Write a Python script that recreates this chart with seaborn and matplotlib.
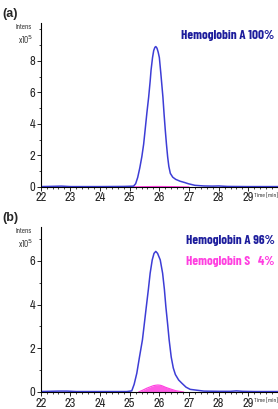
import numpy as np
import pandas as pd
import seaborn as sns
import matplotlib.pyplot as plt
from matplotlib import font_manager
from matplotlib.ticker import MultipleLocator

# chromatogram traces, intensity in units of 1e5
time_a = [22.0, 22.5, 22.7, 23.0, 24.0, 24.8, 25.0, 25.13, 25.2, 25.27, 25.34, 25.41,
          25.47, 25.52, 25.58, 25.64, 25.69, 25.72, 25.77, 25.81, 25.85, 25.88, 25.92,
          25.96, 26.0, 26.05, 26.12, 26.16, 26.2, 26.24, 26.28, 26.32, 26.37, 26.45,
          26.55, 26.7, 26.85, 26.98, 27.2, 27.5, 27.8, 28.0, 28.3, 29.0, 30.0]
hba_a = [0.02, 0.04, 0.05, 0.02, 0.02, 0.03, 0.04, 0.05, 0.2, 0.6, 1.2, 1.92,
         2.7, 3.6, 4.7, 5.7, 6.7, 7.4, 8.2, 8.65, 8.85, 8.9, 8.8,
         8.55, 8.2, 7.2, 5.7, 4.6, 3.6, 2.7, 1.9, 1.3, 0.86, 0.62,
         0.48, 0.36, 0.28, 0.2, 0.1, 0.06, 0.05, 0.06, 0.03, 0.02, 0.02]
time_a_s = [25.0, 25.5, 25.9, 26.5, 27.0]
hbs_a = [0.0, 0.02, 0.03, 0.02, 0.0]

time_b = [22.0, 22.6, 22.9, 23.2, 24.0, 24.9, 25.07, 25.15, 25.24, 25.33, 25.43, 25.5,
          25.56, 25.63, 25.69, 25.76, 25.82, 25.88, 25.94, 26.03, 26.11, 26.17, 26.22,
          26.28, 26.33, 26.4, 26.47, 26.54, 26.65, 26.76, 26.9, 27.04, 27.5, 28.0,
          28.4, 28.6, 28.8, 29.2, 30.0]
hba_b = [0.02, 0.04, 0.04, 0.02, 0.02, 0.02, 0.05, 0.35, 0.86, 1.6, 2.39, 3.2,
         3.9, 4.7, 5.44, 6.05, 6.35, 6.44, 6.35, 6.05, 5.44, 4.7, 3.9,
         3.1, 2.39, 1.6, 1.1, 0.8, 0.55, 0.4, 0.22, 0.12, 0.04, 0.03,
         0.03, 0.05, 0.03, 0.02, 0.02]
time_b_s = [25.3, 25.45, 25.57, 25.7, 25.8, 25.88, 25.95, 26.03, 26.1, 26.22, 26.37, 26.55, 26.82]
hbs_b = [0.0, 0.09, 0.17, 0.24, 0.29, 0.31, 0.32, 0.31, 0.28, 0.21, 0.14, 0.06, 0.0]

labels_a = ["Hemoglobin A 100%"]
labels_b = ["Hemoglobin A 96%", "Hemoglobin S   4%"]
xticks = [22, 23, 24, 25, 26, 27, 28, 29]

blue = "#3d3dd6"
navy = "#1c1c9c"
pink = "#ff3fe0"

sns.set_theme(style="ticks")
names = {f.name for f in font_manager.fontManager.ttflist}


def pick(*fams):
    for f in fams:
        if f in names:
            return f
    return "DejaVu Sans"


narrow = pick("Archivo Narrow", "Roboto Condensed", "Liberation Sans")
cond = pick("Barlow Condensed", "Roboto Condensed", "Archivo Narrow")
arial = pick("Liberation Sans", "DejaVu Sans")
plt.rcParams["font.family"] = [narrow, "DejaVu Sans"]

fig = plt.figure(figsize=(2.78, 4.09), dpi=100)
ax_a = fig.add_axes([0.1464, 0.543, 0.8536, 0.401])
ax_b = fig.add_axes([0.1464, 0.0416, 0.8536, 0.403])

panels = [
    (ax_a, time_a, hba_a, time_a_s, hbs_a, 10.4, [0, 2, 4, 6, 8], labels_a, "(a)"),
    (ax_b, time_b, hba_b, time_b_s, hbs_b, 7.55, [0, 2, 4, 6], labels_b, "(b)"),
]

for ax, t, a, ts, s, ymax, yt, labels, tag in panels:
    df = pd.DataFrame({"time": t, "intens": a})
    dfs = pd.DataFrame({"time": ts, "intens": s})
    ax.fill_between(dfs["time"], 0, dfs["intens"], color=pink, alpha=0.85, lw=0)
    sns.lineplot(data=dfs, x="time", y="intens", ax=ax, color=pink, lw=0.8)
    sns.lineplot(data=df, x="time", y="intens", ax=ax, color=blue, lw=1.1)
    ax.set_xlim(22, 30.0)
    ax.set_ylim(0, ymax)
    ax.set_xticks(xticks)
    ax.set_yticks(yt)
    ax.xaxis.set_minor_locator(MultipleLocator(0.2))
    ax.yaxis.set_minor_locator(MultipleLocator(1))
    ax.tick_params(axis="both", which="major", labelsize=9, length=3, width=0.7, pad=1)
    ax.tick_params(axis="both", which="minor", length=1.5, width=0.6)
    ax.set_xlabel("")
    ax.set_ylabel("")
    sns.despine(ax=ax)
    for sp in ["left", "bottom"]:
        ax.spines[sp].set_linewidth(0.8)
        ax.spines[sp].set_color("black")
    ax.text(29.2, -0.035, "Time [min]", transform=ax.get_xaxis_transform(),
            ha="left", va="top", fontsize=4.6, family=cond)
    ax.text(-0.04, 0.995, "Intens", transform=ax.transAxes, ha="right", va="top",
            fontsize=5.5, family=cond)
    ax.text(-0.03, 0.935, "x10$^5$", transform=ax.transAxes, ha="right", va="top",
            fontsize=6.5, family=cond)
    ax.text(-0.16, 1.09, tag, transform=ax.transAxes, ha="left", va="top",
            fontsize=9, fontweight="bold", family=arial)
    cols = [navy, pink]
    for i, lab in enumerate(labels):
        ax.text(0.985, 0.955 - i * 0.13, lab, transform=ax.transAxes, ha="right", va="top",
                fontsize=9.5, fontweight="bold", color=cols[i], family=cond)

fig.savefig("out.png", dpi=100)
